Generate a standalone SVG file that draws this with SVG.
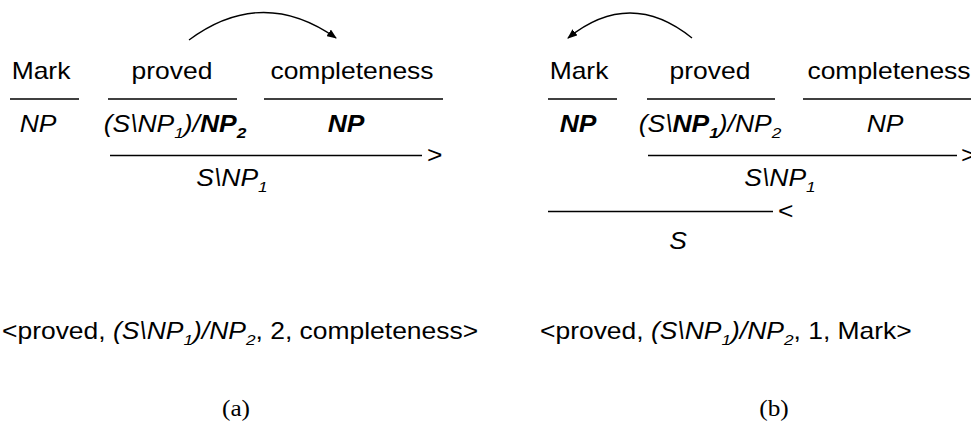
<svg xmlns="http://www.w3.org/2000/svg" width="971" height="423" viewBox="0 0 971 423">
  <style>
    text { font-family: "Liberation Sans", Arial, sans-serif; font-size: 23px; fill: #000; text-anchor: middle; }
    .cat { font-style: italic; }
    .b { font-weight: bold; }
    .sub { font-size: 15px; }
    .start { text-anchor: start; }
    .cap { font-family: "Liberation Serif", "Times New Roman", serif; }
    .rule { stroke: #000; stroke-width: 1.3; fill: none; }
    .dep { stroke: #000; stroke-width: 1.3; fill: none; marker-end: url(#head); }
  </style>
  <defs>
    <marker id="head" markerUnits="userSpaceOnUse" markerWidth="10" markerHeight="8" refX="9" refY="4" orient="auto">
      <path d="M0,0 L10,4 L0,8 z" fill="#000"/>
    </marker>
  </defs>

  <!-- (a) forward application: proved takes completeness as argument 2 -->
  <g id="a-mark">
    <text transform="translate(41 79) scale(1.15 1)">Mark</text>
    <line class="rule" x1="10" y1="99" x2="79" y2="99"/>
    <text class="cat" transform="translate(38 132) scale(1.15 1)">NP</text>
  </g>
  <g id="a-proved">
    <text transform="translate(172 79) scale(1.15 1)">proved</text>
    <line class="rule" x1="108" y1="99" x2="237" y2="99"/>
    <text class="cat" transform="translate(175 132) scale(1.15 1)">(S\NP<tspan class="sub" dy="6">1</tspan><tspan dy="-6">)/</tspan><tspan class="b">NP<tspan class="sub" dy="6">2</tspan></tspan></text>
  </g>
  <g id="a-completeness">
    <text transform="translate(352 79) scale(1.15 1)">completeness</text>
    <line class="rule" x1="264" y1="99" x2="443" y2="99"/>
    <text class="cat b" transform="translate(346 132) scale(1.15 1)">NP</text>
  </g>
  <g id="a-result">
    <line class="rule" x1="110" y1="155.5" x2="422" y2="155.5"/>
    <text class="start" transform="translate(427 163) scale(1.15 1)">&gt;</text>
    <text class="cat" transform="translate(232 186) scale(1.15 1)">S\NP<tspan class="sub" dy="6">1</tspan></text>
  </g>
  <g id="a-tuple">
    <text class="start" transform="translate(2 339) scale(1.15 1)">&lt;proved, <tspan class="cat">(S\NP<tspan class="sub" dy="6">1</tspan><tspan dy="-6">)/NP</tspan><tspan class="sub" dy="6">2</tspan></tspan><tspan dy="-6">, 2, completeness&gt;</tspan></text>
  </g>
  <g id="a-caption">
    <text class="cap" transform="translate(236 416) scale(1.1 1)">(a)</text>
  </g>

  <!-- (b) backward application: proved takes Mark as argument 1 -->
  <g id="b-mark">
    <text transform="translate(579 79) scale(1.15 1)">Mark</text>
    <line class="rule" x1="548" y1="99" x2="617" y2="99"/>
    <text class="cat b" transform="translate(578 132) scale(1.15 1)">NP</text>
  </g>
  <g id="b-proved">
    <text transform="translate(710 79) scale(1.15 1)">proved</text>
    <line class="rule" x1="647" y1="99" x2="775" y2="99"/>
    <text class="cat" transform="translate(710 132) scale(1.15 1)">(S\<tspan class="b">NP<tspan class="sub" dy="6">1</tspan></tspan><tspan dy="-6">)/NP</tspan><tspan class="sub" dy="6">2</tspan></text>
  </g>
  <g id="b-completeness">
    <text transform="translate(889 79) scale(1.15 1)">completeness</text>
    <line class="rule" x1="803" y1="99" x2="975" y2="99"/>
    <text class="cat" transform="translate(885 132) scale(1.15 1)">NP</text>
  </g>
  <g id="b-vp">
    <line class="rule" x1="648" y1="155.5" x2="957" y2="155.5"/>
    <text class="start" transform="translate(961 163) scale(1.15 1)">&gt;</text>
    <text class="cat" transform="translate(780 186) scale(1.15 1)">S\NP<tspan class="sub" dy="6">1</tspan></text>
  </g>
  <g id="b-sentence">
    <line class="rule" x1="548" y1="211.5" x2="773" y2="211.5"/>
    <text class="start" transform="translate(778 219) scale(1.15 1)">&lt;</text>
    <text class="cat" transform="translate(678 249) scale(1.15 1)">S</text>
  </g>
  <g id="b-tuple">
    <text class="start" transform="translate(540 339) scale(1.15 1)">&lt;proved, <tspan class="cat">(S\NP<tspan class="sub" dy="6">1</tspan><tspan dy="-6">)/NP</tspan><tspan class="sub" dy="6">2</tspan></tspan><tspan dy="-6">, 1, Mark&gt;</tspan></text>
  </g>
  <g id="b-caption">
    <text class="cap" transform="translate(774 416) scale(1.1 1)">(b)</text>
  </g>

  <!-- dependency arcs from head to argument -->
  <g id="connectors">
    <path class="dep" d="M189,40 Q262,-14 336,38"/>
    <path class="dep" d="M692,38 Q630,-12 568,38"/>
  </g>
</svg>
